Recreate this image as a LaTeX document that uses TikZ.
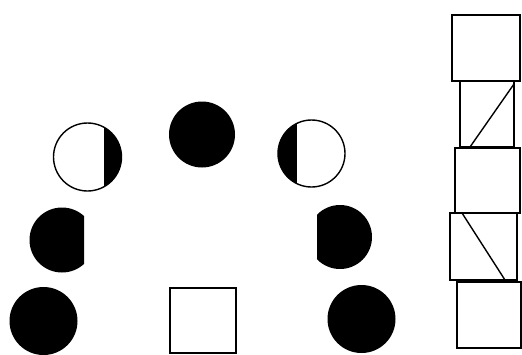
\documentclass[tikz,border=0pt]{standalone}
\usepackage{tikz}

\begin{document}
\begin{tikzpicture}[
            x=1pt, y=-1pt,
            rim/.style={draw=black, line width=1.4pt},
            ink/.style={fill=black},
        ]
        \useasboundingbox (0,0) rectangle (522,354);

        % moons
        \fill[ink] (202,134.5) circle (33);
        \fill[ink] (43.5,321) circle (34);
        \fill[ink] (361.5,319) circle (34);

        \begin{scope}
            \clip (0,200) rectangle (84,280);
            \fill[ink] (62,240) circle (32.5);
        \end{scope}
        \begin{scope}
            \clip (317,200) rectangle (400,280);
            \fill[ink] (340,237) circle (32);
        \end{scope}

        \begin{scope}
            \clip (105,110) rectangle (130,200);
            \fill[ink] (87.5,157) circle (34);
        \end{scope}
        \draw[rim] (87.5,157) circle (34);
        \draw[rim] (105,128) -- (105,186);

        \begin{scope}
            \clip (270,110) rectangle (296,200);
            \fill[ink] (311.5,153.5) circle (33.5);
        \end{scope}
        \draw[rim] (311.5,153.5) circle (33.5);
        \draw[rim] (296,124) -- (296,183);

        % boxes
        \draw[rim] (170,288) rectangle (236,353);

        \draw[rim] (452,15) rectangle (520,81);
        \draw[rim] (460,81) rectangle (514,147);
        \draw[rim] (470,147) -- (514,84);
        \draw[rim] (455,148) rectangle (520,213);
        \draw[rim] (450,213) rectangle (517,280);
        \draw[rim] (462,213) -- (505,280);
        \draw[rim] (457,282) rectangle (521,348);
    \end{tikzpicture}
\end{document}
